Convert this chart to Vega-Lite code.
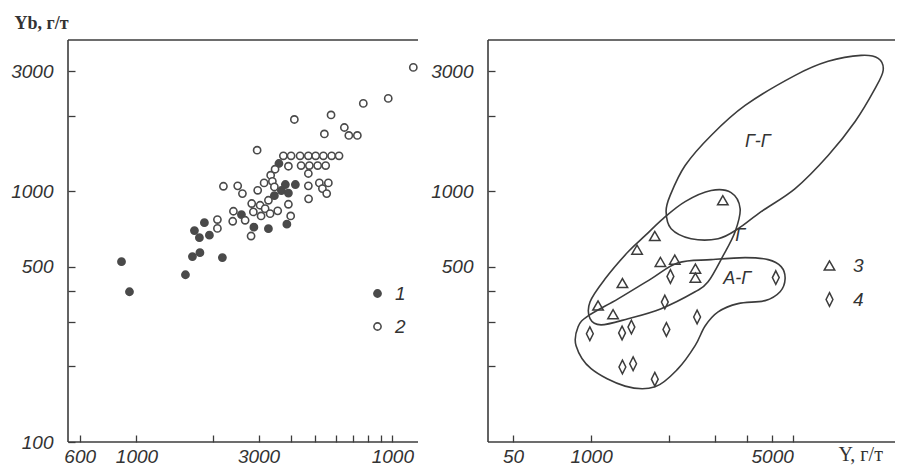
{
  "$schema": "https://vega.github.io/schema/vega-lite/v6.json",
  "background": "white",
  "padding": {"left": 10, "top": 14, "right": 0, "bottom": 0},
  "bounds": "flush",
  "spacing": 70,
  "config": {
    "view": {"stroke": null},
    "axis": {"domain": false, "tickColor": "#3c3c3c", "labelColor": "#333333", "labelFont": "Liberation Sans", "labelFontStyle": "italic", "labelFontSize": 19, "grid": false, "tickWidth": 1.3, "tickSize": 7, "offset": -7, "labelOverlap": false, "labelFlush": false}
  },
  "datasets": {
    "left": [
      {"g": "1", "x": 874, "y": 523}, {"g": "1", "x": 939, "y": 397}, {"g": "1", "x": 1554, "y": 464}, {"g": "1", "x": 1655, "y": 548},
      {"g": "1", "x": 1770, "y": 568}, {"g": "1", "x": 2167, "y": 543}, {"g": "1", "x": 1685, "y": 696}, {"g": "1", "x": 1762, "y": 652},
      {"g": "1", "x": 1843, "y": 748}, {"g": "1", "x": 1928, "y": 667}, {"g": "1", "x": 2572, "y": 806}, {"g": "1", "x": 2877, "y": 718},
      {"g": "1", "x": 3279, "y": 708}, {"g": "1", "x": 3871, "y": 738}, {"g": "1", "x": 3460, "y": 959}, {"g": "1", "x": 3685, "y": 1005},
      {"g": "1", "x": 3819, "y": 1062}, {"g": "1", "x": 3925, "y": 982}, {"g": "1", "x": 4179, "y": 1062}, {"g": "1", "x": 3604, "y": 1288},
      {"g": "2", "x": 12080, "y": 3111}, {"g": "2", "x": 9640, "y": 2340}, {"g": "2", "x": 7702, "y": 2235}, {"g": "2", "x": 5761, "y": 2011},
      {"g": "2", "x": 4141, "y": 1929}, {"g": "2", "x": 6494, "y": 1792}, {"g": "2", "x": 5426, "y": 1689}, {"g": "2", "x": 6761, "y": 1666},
      {"g": "2", "x": 7300, "y": 1666}, {"g": "2", "x": 2962, "y": 1455},
      {"g": "2", "x": 3751, "y": 1382}, {"g": "2", "x": 4021, "y": 1382}, {"g": "2", "x": 4360, "y": 1382}, {"g": "2", "x": 4697, "y": 1382},
      {"g": "2", "x": 5016, "y": 1382}, {"g": "2", "x": 5377, "y": 1382}, {"g": "2", "x": 5792, "y": 1382}, {"g": "2", "x": 6191, "y": 1382},
      {"g": "2", "x": 3925, "y": 1256}, {"g": "2", "x": 4400, "y": 1264}, {"g": "2", "x": 4740, "y": 1264}, {"g": "2", "x": 5107, "y": 1264},
      {"g": "2", "x": 5490, "y": 1264}, {"g": "2", "x": 3481, "y": 1222}, {"g": "2", "x": 3346, "y": 1157}, {"g": "2", "x": 4697, "y": 1175},
      {"g": "2", "x": 3154, "y": 1078}, {"g": "2", "x": 3398, "y": 1094}, {"g": "2", "x": 2187, "y": 1045}, {"g": "2", "x": 2487, "y": 1049},
      {"g": "2", "x": 2595, "y": 977}, {"g": "2", "x": 2977, "y": 1007}, {"g": "2", "x": 3460, "y": 1039}, {"g": "2", "x": 4697, "y": 1049},
      {"g": "2", "x": 5185, "y": 1078}, {"g": "2", "x": 5623, "y": 1078}, {"g": "2", "x": 5330, "y": 1023}, {"g": "2", "x": 5540, "y": 977},
      {"g": "2", "x": 4706, "y": 931}, {"g": "2", "x": 3925, "y": 886}, {"g": "2", "x": 2821, "y": 892}, {"g": "2", "x": 3042, "y": 878},
      {"g": "2", "x": 3279, "y": 919}, {"g": "2", "x": 3183, "y": 851}, {"g": "2", "x": 2864, "y": 826}, {"g": "2", "x": 3069, "y": 796},
      {"g": "2", "x": 3329, "y": 813}, {"g": "2", "x": 3565, "y": 834}, {"g": "2", "x": 2393, "y": 831}, {"g": "2", "x": 2378, "y": 758},
      {"g": "2", "x": 2659, "y": 765}, {"g": "2", "x": 2072, "y": 770}, {"g": "2", "x": 2072, "y": 710}, {"g": "2", "x": 4006, "y": 796},
      {"g": "2", "x": 2805, "y": 662}
    ],
    "right": [
      {"g": "3", "x": 3225, "y": 919}, {"g": "3", "x": 1762, "y": 662}, {"g": "3", "x": 1505, "y": 584}, {"g": "3", "x": 1852, "y": 522},
      {"g": "3", "x": 2104, "y": 533}, {"g": "3", "x": 2527, "y": 491}, {"g": "3", "x": 2527, "y": 452}, {"g": "3", "x": 1321, "y": 430},
      {"g": "3", "x": 1064, "y": 350}, {"g": "3", "x": 1216, "y": 323},
      {"g": "4", "x": 5165, "y": 452}, {"g": "4", "x": 2024, "y": 457}, {"g": "4", "x": 1926, "y": 361}, {"g": "4", "x": 2566, "y": 315},
      {"g": "4", "x": 989, "y": 270}, {"g": "4", "x": 1317, "y": 272}, {"g": "4", "x": 1431, "y": 287}, {"g": "4", "x": 1953, "y": 281},
      {"g": "4", "x": 1321, "y": 199}, {"g": "4", "x": 1453, "y": 205}, {"g": "4", "x": 1762, "y": 178}
    ],
    "contours": [
      {"c": "GG", "i": 1, "x": 11029, "y": 3475}, {"c": "GG", "i": 2, "x": 12830, "y": 3381}, {"c": "GG", "i": 3, "x": 13415, "y": 3030},
      {"c": "GG", "i": 4, "x": 12490, "y": 2565}, {"c": "GG", "i": 5, "x": 10455, "y": 1894}, {"c": "GG", "i": 6, "x": 8222, "y": 1386},
      {"c": "GG", "i": 7, "x": 6133, "y": 1023}, {"c": "GG", "i": 8, "x": 4533, "y": 828}, {"c": "GG", "i": 9, "x": 3694, "y": 708},
      {"c": "GG", "i": 10, "x": 3093, "y": 646}, {"c": "GG", "i": 11, "x": 2432, "y": 646}, {"c": "GG", "i": 12, "x": 2037, "y": 708},
      {"c": "GG", "i": 13, "x": 1948, "y": 828}, {"c": "GG", "i": 14, "x": 2018, "y": 959}, {"c": "GG", "i": 15, "x": 2307, "y": 1264},
      {"c": "GG", "i": 16, "x": 2906, "y": 1666}, {"c": "GG", "i": 17, "x": 3932, "y": 2194}, {"c": "GG", "i": 18, "x": 6133, "y": 2891},
      {"c": "GG", "i": 19, "x": 8222, "y": 3289},
      {"c": "G", "i": 1, "x": 2906, "y": 1005}, {"c": "G", "i": 2, "x": 3471, "y": 986}, {"c": "G", "i": 3, "x": 3761, "y": 851},
      {"c": "G", "i": 4, "x": 3597, "y": 689}, {"c": "G", "i": 5, "x": 3234, "y": 553}, {"c": "G", "i": 6, "x": 2829, "y": 435},
      {"c": "G", "i": 7, "x": 2521, "y": 397}, {"c": "G", "i": 8, "x": 1864, "y": 340}, {"c": "G", "i": 9, "x": 1390, "y": 310},
      {"c": "G", "i": 10, "x": 1093, "y": 293}, {"c": "G", "i": 11, "x": 991, "y": 310}, {"c": "G", "i": 12, "x": 991, "y": 362},
      {"c": "G", "i": 13, "x": 1133, "y": 447}, {"c": "G", "i": 14, "x": 1390, "y": 573}, {"c": "G", "i": 15, "x": 1616, "y": 664},
      {"c": "G", "i": 16, "x": 1897, "y": 777}, {"c": "G", "i": 17, "x": 2307, "y": 908},
      {"c": "AG", "i": 1, "x": 974, "y": 318}, {"c": "AG", "i": 2, "x": 1271, "y": 372}, {"c": "AG", "i": 3, "x": 1704, "y": 447},
      {"c": "AG", "i": 4, "x": 2167, "y": 518}, {"c": "AG", "i": 5, "x": 2906, "y": 533}, {"c": "AG", "i": 6, "x": 3932, "y": 543},
      {"c": "AG", "i": 7, "x": 4825, "y": 533}, {"c": "AG", "i": 8, "x": 5415, "y": 500}, {"c": "AG", "i": 9, "x": 5610, "y": 447},
      {"c": "AG", "i": 10, "x": 5366, "y": 397}, {"c": "AG", "i": 11, "x": 4697, "y": 366}, {"c": "AG", "i": 12, "x": 3694, "y": 356},
      {"c": "AG", "i": 13, "x": 3093, "y": 330}, {"c": "AG", "i": 14, "x": 2755, "y": 290}, {"c": "AG", "i": 15, "x": 2521, "y": 242},
      {"c": "AG", "i": 16, "x": 2167, "y": 196}, {"c": "AG", "i": 17, "x": 1766, "y": 166}, {"c": "AG", "i": 18, "x": 1353, "y": 167},
      {"c": "AG", "i": 19, "x": 1000, "y": 196}, {"c": "AG", "i": 20, "x": 875, "y": 242}, {"c": "AG", "i": 21, "x": 891, "y": 288}
    ],
    "labels": [
      {"t": "Г-Г", "x": 4400, "y": 1576},
      {"t": "Г", "x": 3760, "y": 664},
      {"t": "А-Г", "x": 3663, "y": 448}
    ]
  },
  "hconcat": [
    {
      "width": 350,
      "height": 402,
      "layer": [
        {
          "data": {"values": [{}]},
          "mark": {"type": "rule", "color": "#3c3c3c", "strokeWidth": 1.6},
          "encoding": {"y": {"datum": 4000}}
        },
        {
          "data": {"values": [{}]},
          "mark": {"type": "rule", "color": "#3c3c3c", "strokeWidth": 1.6},
          "encoding": {"y": {"datum": 100}}
        },
        {
          "data": {"values": [{}]},
          "mark": {"type": "rule", "color": "#3c3c3c", "strokeWidth": 1.6},
          "encoding": {"x": {"datum": 540}}
        },
        {
          "data": {"name": "left"},
          "mark": {"type": "circle", "size": 52, "strokeWidth": 1.6, "opacity": 1},
          "encoding": {
            "x": {"field": "x", "type": "quantitative", "scale": {"type": "log", "domain": [540, 12600], "nice": false},
              "axis": {"values": [600, 1000, 2000, 3000, 4000, 5000, 6000, 7000, 8000, 9000, 10000],
                "labelExpr": "datum.value == 600 ? '600' : datum.value == 1000 ? '1000' : datum.value == 3000 ? '3000' : datum.value == 10000 ? '1000' : ''",
                "labelPadding": 5, "title": null}},
            "y": {"field": "y", "type": "quantitative", "scale": {"type": "log", "domain": [100, 4000], "nice": false},
              "axis": {"values": [100, 200, 300, 400, 500, 1000, 2000, 3000],
                "labelExpr": "datum.value == 100 || datum.value == 500 || datum.value == 1000 || datum.value == 3000 ? datum.value + '' : ''",
                "labelPadding": 15,
                "title": "Yb, г/т", "titleAngle": 0, "titleAlign": "left", "titleBaseline": "alphabetic", "titleX": -61, "titleY": -12,
                "titleFont": "Liberation Serif", "titleFontSize": 18, "titleFontWeight": "bold", "titleColor": "#333333"}},
            "fill": {"field": "g", "type": "nominal", "scale": {"domain": ["1", "2"], "range": ["#4a4a4a", "#ffffff"]},
              "legend": {"orient": "none", "legendX": 300, "legendY": 244, "title": null, "labelFont": "Liberation Sans", "labelFontStyle": "italic",
                "labelFontSize": 19, "labelColor": "#333333", "symbolSize": 52, "symbolStrokeColor": "#4a4a4a", "symbolStrokeWidth": 1.6,
                "rowPadding": 13, "labelOffset": 8}},
            "stroke": {"field": "g", "type": "nominal", "scale": {"domain": ["1", "2"], "range": ["#4a4a4a", "#4a4a4a"]}, "legend": null}
          }
        }
      ]
    },
    {
      "width": 407,
      "height": 402,
      "layer": [
        {
          "data": {"values": [{}]},
          "mark": {"type": "rule", "color": "#3c3c3c", "strokeWidth": 1.6},
          "encoding": {"y": {"datum": 4000}}
        },
        {
          "data": {"values": [{}]},
          "mark": {"type": "rule", "color": "#3c3c3c", "strokeWidth": 1.6},
          "encoding": {"y": {"datum": 100}}
        },
        {
          "data": {"values": [{}]},
          "mark": {"type": "rule", "color": "#3c3c3c", "strokeWidth": 1.6},
          "encoding": {"x": {"datum": 400}}
        },
        {
          "data": {"name": "contours"},
          "mark": {"type": "line", "interpolate": "cardinal-closed", "color": "#3c3c3c", "strokeWidth": 1.6},
          "encoding": {
            "x": {"field": "x", "type": "quantitative", "scale": {"type": "log", "domain": [400, 14900], "nice": false},
              "axis": {"values": [500, 1000, 2000, 3000, 4000, 5000, 6000],
                "labelExpr": "datum.value == 500 ? '50' : datum.value == 1000 ? '1000' : datum.value == 5000 ? '5000' : ''",
                "labelPadding": 5,
                "title": "Y, г/т", "titleAngle": 0, "titleAlign": "left", "titleBaseline": "alphabetic", "titleX": 350, "titleY": 25,
                "titleFont": "Liberation Serif", "titleFontSize": 20, "titleFontWeight": "normal", "titleColor": "#333333"}},
            "y": {"field": "y", "type": "quantitative", "scale": {"type": "log", "domain": [100, 4000], "nice": false},
              "axis": {"values": [200, 300, 400, 500, 1000, 2000, 3000],
                "labelExpr": "datum.value == 500 || datum.value == 1000 || datum.value == 3000 ? datum.value + '' : ''",
                "labelPadding": 15, "title": null}},
            "detail": {"field": "c", "type": "nominal"},
            "order": {"field": "i", "type": "quantitative"}
          }
        },
        {
          "data": {"name": "right"},
          "mark": {"type": "point", "filled": false, "size": 110, "strokeWidth": 1.5, "color": "#3c3c3c", "opacity": 1},
          "encoding": {
            "x": {"field": "x", "type": "quantitative"},
            "y": {"field": "y", "type": "quantitative"},
            "shape": {"field": "g", "type": "nominal",
              "scale": {"domain": ["3", "4"], "range": ["triangle-up", "M0,-1.3L0.65,0L0,1.3L-0.65,0Z"]},
              "legend": {"orient": "none", "legendX": 332, "legendY": 216, "title": null, "labelFont": "Liberation Sans", "labelFontStyle": "italic",
                "labelFontSize": 19, "labelColor": "#333333", "symbolSize": 110, "symbolStrokeColor": "#3c3c3c", "symbolFillColor": "white",
                "symbolStrokeWidth": 1.5, "rowPadding": 13, "labelOffset": 14}}
          }
        },
        {
          "data": {"name": "labels"},
          "mark": {"type": "text", "font": "Liberation Sans", "fontStyle": "italic", "fontSize": 18, "color": "#333333"},
          "encoding": {
            "x": {"field": "x", "type": "quantitative"},
            "y": {"field": "y", "type": "quantitative"},
            "text": {"field": "t"}
          }
        }
      ]
    }
  ],
  "resolve": {"scale": {"x": "independent", "y": "independent", "fill": "independent", "stroke": "independent", "shape": "independent"}}
}
